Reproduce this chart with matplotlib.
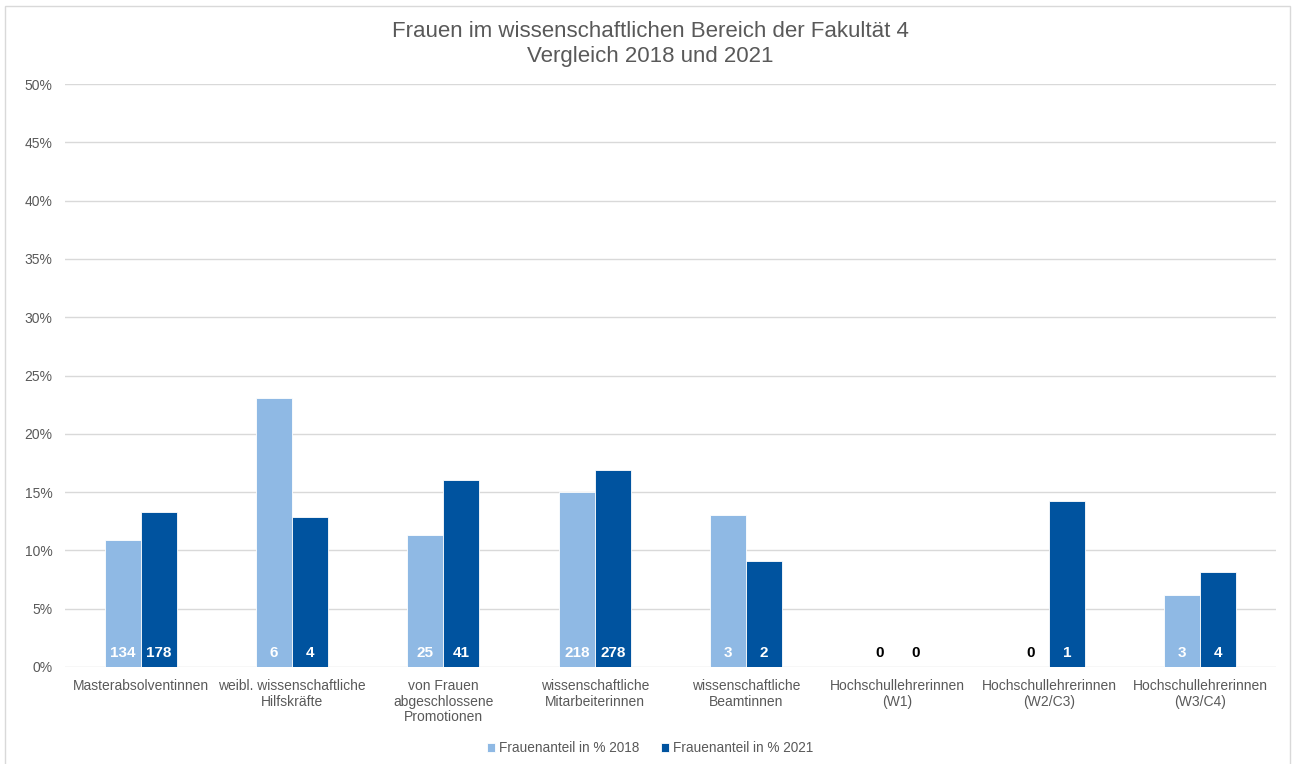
import matplotlib
matplotlib.use("Agg")
import matplotlib.pyplot as plt
from matplotlib.patches import Rectangle
import numpy as np

plt.rcParams['font.family'] = ['Liberation Sans', 'DejaVu Sans']

categories = ["Masterabsolventinnen", "weibl. wissenschaftliche\nHilfskräfte",
              "von Frauen\nabgeschlossene\nPromotionen", "wissenschaftliche\nMitarbeiterinnen",
              "wissenschaftliche\nBeamtinnen", "Hochschullehrerinnen\n(W1)",
              "Hochschullehrerinnen\n(W2/C3)", "Hochschullehrerinnen\n(W3/C4)"]
pct_2018 = [10.9, 23.05, 11.3, 15.0, 13.0, 0.0, 0.0, 6.2]
pct_2021 = [13.3, 12.9, 16.0, 16.9, 9.08, 0.0, 14.25, 8.15]
count_2018 = [134, 6, 25, 218, 3, 0, 0, 3]
count_2021 = [178, 4, 41, 278, 2, 0, 1, 4]
series_names = ["Frauenanteil in % 2018", "Frauenanteil in % 2021"]
yticks = [0, 5, 10, 15, 20, 25, 30, 35, 40, 45, 50]

c_light = "#8FB9E4"
c_dark = "#00539F"
grey = "#595959"

W, H = 1298, 764
fig = plt.figure(figsize=(W / 100, H / 100), dpi=100)
ax = fig.add_axes([65 / W, 1 - 667 / H, (1276 - 65) / W, (667 - 84) / H])

x = np.arange(len(categories))
bw = 0.238
b1 = ax.bar(x - bw / 2, pct_2018, bw, color=c_light, edgecolor="white", linewidth=0.6,
            label=series_names[0], zorder=3)
b2 = ax.bar(x + bw / 2, pct_2021, bw, color=c_dark, edgecolor="white", linewidth=0.6,
            label=series_names[1], zorder=3)

for i in range(len(categories)):
    for off, cnt, val in ((-bw / 2, count_2018[i], pct_2018[i]), (bw / 2, count_2021[i], pct_2021[i])):
        col = "white" if val > 0 else "black"
        ax.text(x[i] + off, 1.2, str(cnt), ha="center", va="center", color=col,
                fontsize=11, fontweight="bold", zorder=4)

ax.set_xlim(-0.5, len(categories) - 0.5)
ax.set_ylim(0, 50)
ax.set_yticks(yticks)
ax.set_yticklabels([f"{v}%" for v in yticks])
ax.set_xticks(x)
ax.set_xticklabels(categories, linespacing=1.12)
ax.tick_params(axis="y", length=0, pad=9, labelsize=10, labelcolor=grey)
ax.tick_params(axis="x", length=0, pad=9, labelsize=10, labelcolor=grey)
ax.grid(axis="y", color="#D9D9D9", linewidth=1, zorder=0)
for s in ax.spines.values():
    s.set_visible(False)

fig.text(650 / W, 1 - 44 / H, "Frauen im wissenschaftlichen Bereich der Fakultät 4\nVergleich 2018 und 2021",
         ha="center", va="center", fontsize=16, color=grey, linespacing=1.3)

leg = fig.legend(handles=[b1, b2], labels=series_names, loc="center",
                 bbox_to_anchor=(650 / W, 1 - 748 / H), ncol=2, frameon=False,
                 fontsize=9.8, labelcolor=grey, handlelength=0.6, handleheight=0.6,
                 handletextpad=0.3, columnspacing=1.6)

fig.patches.append(Rectangle((5 / W, -0.05), (1290 - 5) / W, 1.05 - 6 / H,
                             transform=fig.transFigure, fill=False,
                             edgecolor="#D9D9D9", linewidth=1))

fig.savefig("out.png", dpi=100)
